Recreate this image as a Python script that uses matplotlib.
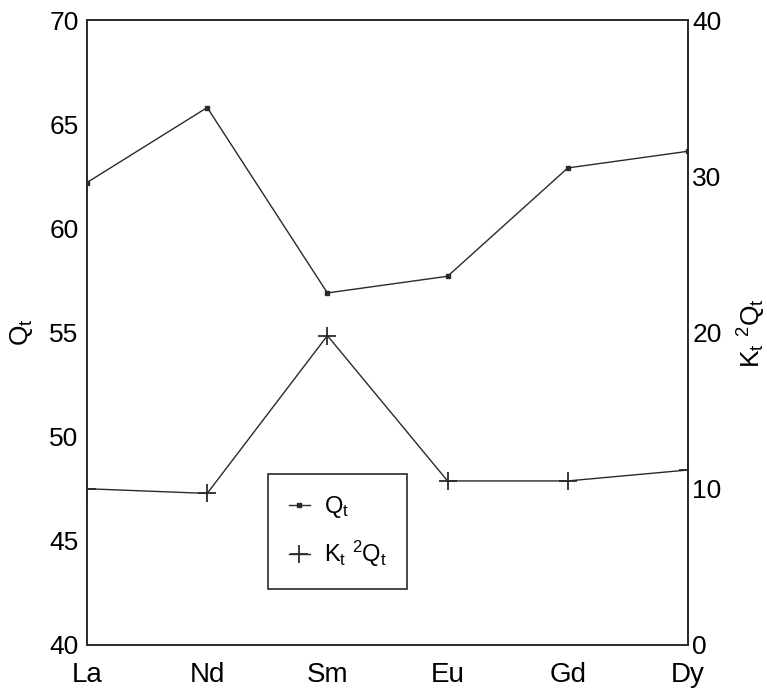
import matplotlib
matplotlib.use('Agg')
import matplotlib.pyplot as plt

plt.rcParams['font.family'] = ['Liberation Sans', 'DejaVu Sans']
plt.rcParams['mathtext.fontset'] = 'custom'
plt.rcParams['mathtext.rm'] = 'Liberation Sans'
plt.rcParams['mathtext.it'] = 'Liberation Sans'

elements = ['La', 'Nd', 'Sm', 'Eu', 'Gd', 'Dy']
qt = [62.2, 65.8, 56.9, 57.7, 62.9, 63.7]
kt2qt = [10.0, 9.7, 19.8, 10.5, 10.5, 11.2]

fig = plt.figure(figsize=(7.67, 6.91), dpi=100)
ax1 = fig.add_axes([0.1134, 0.0666, 0.7836, 0.9044])
ax2 = ax1.twinx()

x = list(range(len(elements)))
l1, = ax1.plot(x, qt, c='#2a2a2a', lw=1, marker='s', ms=3.5, label=r'$\mathregular{Q_t}$')
l2, = ax2.plot(x, kt2qt, c='#2a2a2a', lw=1, marker='+', ms=13, mew=1.3,
               label=r'$\mathregular{K_t\ ^2Q_t}$')

ax1.set_xlim(0, len(elements) - 1)
ax1.set_ylim(40, 70)
ax2.set_ylim(0, 40)
ax1.set_yticks([40, 45, 50, 55, 60, 65, 70])
ax2.set_yticks([0, 10, 20, 30, 40])
ax1.set_xticks(x)
ax1.set_xticklabels(elements)

ax1.tick_params(axis='x', length=0, pad=12, labelsize=20)
ax1.tick_params(axis='y', length=0, pad=6, labelsize=19)
ax2.tick_params(axis='y', length=0, pad=3, labelsize=19)

for a in (ax1, ax2):
    for s in a.spines.values():
        s.set_linewidth(1.2)
        s.set_color('#2a2a2a')

ax1.set_ylabel(r'$\mathregular{Q_t}$', fontsize=19, labelpad=10)
ax2.set_ylabel(r'$\mathregular{K_t\ ^2Q_t}$', fontsize=19, rotation=90, labelpad=10)

# legend box sits in the lower middle of the axes
leg = ax1.legend([l1, l2], [l1.get_label(), l2.get_label()],
                 loc='upper left', bbox_to_anchor=(0.302, 0.274),
                 fontsize=17, fancybox=False, framealpha=1,
                 edgecolor='#2a2a2a', handlelength=0.9, handletextpad=0.6,
                 borderpad=0.85, labelspacing=0.8, borderaxespad=0)
leg.get_frame().set_linewidth(1.2)

fig.savefig('out.png', dpi=100)
